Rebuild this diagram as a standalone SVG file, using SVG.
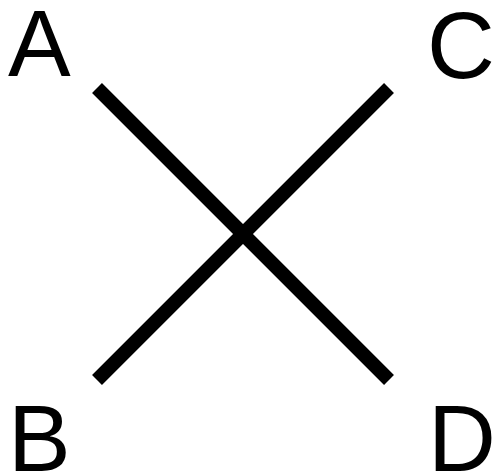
<svg xmlns="http://www.w3.org/2000/svg" width="493" height="475" viewBox="0 0 493 475">
<style>
.lbl{font-family:"Liberation Sans",Arial,sans-serif;font-size:94px;fill:#000}
.ln{stroke:#000;stroke-width:14;stroke-linecap:butt;fill:none}
</style>
<rect width="493" height="475" fill="#fff"/>
<g id="connectors">
<line class="ln" x1="97" y1="88" x2="389" y2="380"/>
<line class="ln" x1="389" y1="88" x2="97" y2="380"/>
</g>
<g id="A"><text class="lbl" x="8" y="76">A</text></g>
<g id="C"><text class="lbl" x="427" y="78">C</text></g>
<g id="B"><text class="lbl" x="8" y="471">B</text></g>
<g id="D"><text class="lbl" x="428" y="471">D</text></g>
</svg>
